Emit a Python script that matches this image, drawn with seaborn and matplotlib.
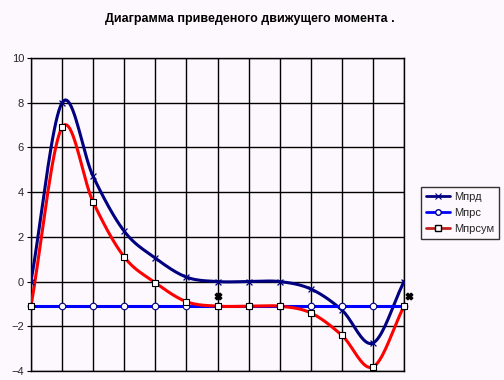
import numpy as np
import pandas as pd
import matplotlib
matplotlib.use("Agg")
import matplotlib.pyplot as plt
from matplotlib.lines import Line2D
import seaborn as sns

positions = list(range(13))
m_prd = [0.0, 8.0, 4.7, 2.25, 1.05, 0.2, 0.0, 0.0, 0.0, -0.33, -1.27, -2.75, 0.0]
m_prc = [-1.1] * 13
m_prsum = [-1.1, 6.9, 3.55, 1.1, -0.05, -0.9, -1.1, -1.1, -1.1, -1.4, -2.4, -3.82, -1.1]
extra_x = [6, 12.15]
extra_y = [-0.65, -0.63]

title = "Диаграмма приведеного движущего момента ."
names = ["Мпрд", "Мпрс", "Мпрсум"]
bg = "#fdf8fd"

sns.set_style("white")
plt.rcParams['font.family'] = ['Liberation Sans', 'DejaVu Sans']


def smooth(x, y, n=20):
    # сглаженная линия как в Excel (Catmull-Rom)
    x = np.asarray(x, float)
    y = np.asarray(y, float)
    px = np.concatenate([[2 * x[0] - x[1]], x, [2 * x[-1] - x[-2]]])
    py = np.concatenate([[2 * y[0] - y[1]], y, [2 * y[-1] - y[-2]]])
    xs, ys = [], []
    t = np.linspace(0, 1, n, endpoint=False)
    for i in range(1, len(px) - 2):
        for p, out in ((px, xs), (py, ys)):
            p0, p1, p2, p3 = p[i - 1], p[i], p[i + 1], p[i + 2]
            out.extend(0.5 * (2 * p1 + (-p0 + p2) * t
                              + (2 * p0 - 5 * p1 + 4 * p2 - p3) * t ** 2
                              + (-p0 + 3 * p1 - 3 * p2 + p3) * t ** 3))
    xs.append(x[-1])
    ys.append(y[-1])
    return np.array(xs), np.array(ys)


fig = plt.figure(figsize=(5.04, 3.80), dpi=100, facecolor=bg)
ax = fig.add_axes([31 / 504, 1 - 371 / 380, 373 / 504, 313 / 380])
ax.set_facecolor(bg)

series = [
    (m_prd, "#000080", "x", "#000080", "#000080"),
    (m_prc, "#0000ff", "o", "white", "#000080"),
    (m_prsum, "#ff0000", "s", "white", "black"),
]
for vals, col, mk, fc, ec in series:
    sx, sy = smooth(positions, vals)
    sns.lineplot(x=sx, y=sy, sort=False, color=col, lw=2.2, ax=ax, zorder=3)
    df = pd.DataFrame({"x": positions, "y": vals})
    if mk == "x":
        ax.scatter(df["x"], df["y"], marker="x", s=18, color=col, linewidths=0.9, zorder=4)
    else:
        sns.scatterplot(data=df, x="x", y="y", marker=mk, s=22, color=fc,
                        edgecolor=ec, linewidth=0.8, ax=ax, zorder=4, clip_on=False)

ax.scatter(extra_x, extra_y, marker="X", s=22, color="black", zorder=5, clip_on=False)

ax.set_xlim(0, 12)
ax.set_ylim(-4, 10)
ax.set_xticks(positions)
ax.set_xticklabels([])
ax.set_yticks(range(-4, 11, 2))
ax.grid(True, color="black", lw=1)
ax.tick_params(axis="y", length=3, color="black", labelsize=8, pad=2, left=True)
ax.tick_params(axis="x", length=0)
for s in ["left", "bottom", "top", "right"]:
    ax.spines[s].set_color("black")
    ax.spines[s].set_linewidth(1)
ax.set_xlabel("")
ax.set_ylabel("")

fig.text(250 / 504, 1 - 19 / 380, title, ha="center", va="center",
         fontsize=9, fontweight="bold", color="black")

handles = [
    Line2D([], [], color="#000080", lw=2, marker="x", ms=4, mew=0.8),
    Line2D([], [], color="#0000ff", lw=2, marker="o", ms=4, mfc="white", mec="#000080"),
    Line2D([], [], color="#c02020", lw=2, marker="s", ms=4, mfc="white", mec="black"),
]
leg = fig.legend(handles, names, loc="upper left", bbox_to_anchor=(421 / 504, 1 - 187 / 380),
                 fontsize=8, frameon=True, fancybox=False, handlelength=2.2,
                 handletextpad=0.3, borderpad=0.45, labelspacing=0.55, borderaxespad=0)
leg.get_frame().set_edgecolor("black")
leg.get_frame().set_facecolor(bg)
leg.get_frame().set_linewidth(1)

fig.savefig("out.png", dpi=100, facecolor=bg)
